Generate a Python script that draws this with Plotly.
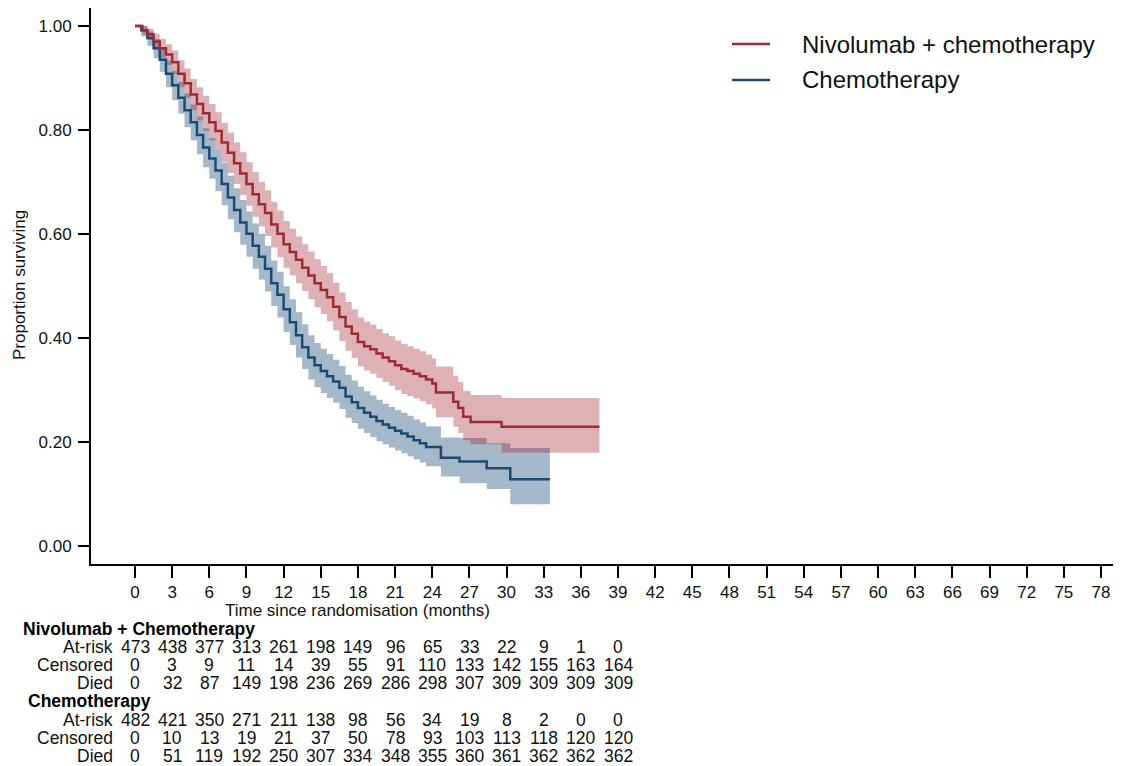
import plotly.graph_objects as go

# ---------------- data ----------------
nivo_time = [0, 0.6, 1.0, 1.5, 2.0, 2.5, 3.0, 3.5, 4.0, 4.5, 5.0, 5.5, 6.0, 6.5, 7.0, 7.5,
             8.0, 8.5, 9.0, 9.5, 10.0, 10.5, 11.0, 11.5, 12.0, 12.5, 13.0, 13.5, 14.0, 14.5,
             15.0, 15.5, 16.0, 16.5, 17.0, 17.5, 18.0, 18.5, 19.0, 19.5, 20.0, 20.5, 21.0,
             21.5, 22.0, 22.5, 23.0, 23.5, 24.0, 24.3, 25.7, 26.1, 26.5, 27.1, 29.6, 37.5]
nivo_surv = [1.000, 0.992, 0.984, 0.970, 0.957, 0.945, 0.930, 0.908, 0.890, 0.868, 0.850,
             0.832, 0.815, 0.798, 0.776, 0.756, 0.736, 0.716, 0.696, 0.676, 0.657, 0.640,
             0.618, 0.600, 0.580, 0.565, 0.550, 0.535, 0.520, 0.505, 0.492, 0.478, 0.460,
             0.440, 0.422, 0.408, 0.392, 0.384, 0.378, 0.370, 0.362, 0.355, 0.347, 0.340,
             0.336, 0.331, 0.326, 0.320, 0.312, 0.295, 0.277, 0.265, 0.248, 0.238, 0.229, 0.229]
nivo_upper = [1.000, 1.000, 0.995, 0.985, 0.975, 0.965, 0.953, 0.934, 0.918, 0.898, 0.882,
              0.866, 0.850, 0.834, 0.814, 0.795, 0.776, 0.757, 0.738, 0.719, 0.700, 0.684,
              0.662, 0.645, 0.625, 0.610, 0.595, 0.580, 0.566, 0.551, 0.538, 0.524, 0.506,
              0.487, 0.469, 0.455, 0.439, 0.431, 0.425, 0.417, 0.409, 0.403, 0.395, 0.388,
              0.384, 0.379, 0.374, 0.368, 0.360, 0.345, 0.327, 0.315, 0.298, 0.290, 0.284, 0.284]
nivo_lower = [1.000, 0.984, 0.973, 0.955, 0.939, 0.925, 0.907, 0.882, 0.862, 0.838, 0.818,
              0.798, 0.780, 0.762, 0.738, 0.717, 0.696, 0.675, 0.654, 0.633, 0.614, 0.596,
              0.574, 0.555, 0.535, 0.520, 0.505, 0.490, 0.474, 0.459, 0.446, 0.432, 0.414,
              0.394, 0.375, 0.361, 0.345, 0.337, 0.331, 0.323, 0.315, 0.308, 0.299, 0.292,
              0.288, 0.283, 0.278, 0.272, 0.264, 0.247, 0.229, 0.217, 0.203, 0.195, 0.179, 0.179]

chemo_time = [0, 0.5, 1.0, 1.5, 2.0, 2.5, 3.0, 3.5, 4.0, 4.5, 5.0, 5.5, 6.0, 6.5, 7.0, 7.5,
              8.0, 8.5, 9.0, 9.5, 10.0, 10.5, 11.0, 11.5, 12.0, 12.5, 13.0, 13.5, 14.0, 14.5,
              15.0, 15.5, 16.0, 16.5, 17.0, 17.5, 18.0, 18.5, 19.0, 19.5, 20.0, 20.5, 21.0,
              21.5, 22.0, 22.5, 23.0, 23.5, 24.7, 26.2, 28.4, 30.3, 33.5]
chemo_surv = [1.000, 0.992, 0.977, 0.957, 0.935, 0.908, 0.886, 0.862, 0.838, 0.815, 0.790,
              0.766, 0.745, 0.722, 0.696, 0.670, 0.646, 0.622, 0.600, 0.577, 0.556, 0.533,
              0.505, 0.483, 0.455, 0.430, 0.405, 0.382, 0.362, 0.347, 0.336, 0.326, 0.316,
              0.304, 0.287, 0.276, 0.265, 0.256, 0.248, 0.240, 0.233, 0.227, 0.221, 0.216,
              0.210, 0.203, 0.197, 0.190, 0.169, 0.162, 0.149, 0.128, 0.128]
chemo_upper = [1.000, 1.000, 0.990, 0.975, 0.957, 0.933, 0.914, 0.892, 0.870, 0.849, 0.826,
               0.803, 0.784, 0.762, 0.737, 0.712, 0.688, 0.665, 0.643, 0.620, 0.600, 0.577,
               0.549, 0.527, 0.499, 0.474, 0.449, 0.426, 0.405, 0.390, 0.379, 0.369, 0.358,
               0.346, 0.329, 0.318, 0.306, 0.297, 0.289, 0.281, 0.273, 0.267, 0.261, 0.256,
               0.250, 0.243, 0.237, 0.230, 0.208, 0.207, 0.197, 0.188, 0.188]
chemo_lower = [1.000, 0.980, 0.962, 0.938, 0.912, 0.882, 0.857, 0.831, 0.805, 0.780, 0.753,
               0.728, 0.706, 0.682, 0.655, 0.628, 0.603, 0.579, 0.556, 0.533, 0.512, 0.489,
               0.461, 0.439, 0.411, 0.386, 0.362, 0.340, 0.320, 0.305, 0.294, 0.284, 0.275,
               0.263, 0.246, 0.236, 0.225, 0.217, 0.209, 0.201, 0.195, 0.189, 0.183, 0.178,
               0.172, 0.166, 0.160, 0.153, 0.133, 0.120, 0.109, 0.080, 0.080]

x_ticks = list(range(0, 79, 3))
y_ticks = [0.0, 0.2, 0.4, 0.6, 0.8, 1.0]
y_ticklabels = ["0.00", "0.20", "0.40", "0.60", "0.80", "1.00"]

table_times = [0, 3, 6, 9, 12, 15, 18, 21, 24, 27, 30, 33, 36, 39]
nivo_atrisk = [473, 438, 377, 313, 261, 198, 149, 96, 65, 33, 22, 9, 1, 0]
nivo_censored = [0, 3, 9, 11, 14, 39, 55, 91, 110, 133, 142, 155, 163, 164]
nivo_died = [0, 32, 87, 149, 198, 236, 269, 286, 298, 307, 309, 309, 309, 309]
chemo_atrisk = [482, 421, 350, 271, 211, 138, 98, 56, 34, 19, 8, 2, 0, 0]
chemo_censored = [0, 10, 13, 19, 21, 37, 50, 78, 93, 103, 113, 118, 120, 120]
chemo_died = [0, 51, 119, 192, 250, 307, 334, 348, 355, 360, 361, 362, 362, 362]

# ---------------- styling ----------------
# the page body has an 8px margin: the figure is drawn from (8, 8);
# the visible page ends at about x = 1113
OFF = 8
RIGHT = 1113
W, H = RIGHT - OFF, 766 - OFF
ML, MR, MT, MB = 91 - OFF, 0, 0, 766 - 564
PW, PH = W - ML - MR, H - MT - MB
FONT = "Arial, Liberation Sans, sans-serif"
RED = "#9E2A32"
BLUE = "#1B4A74"
RED_FILL = "rgba(160,40,50,0.36)"
BLUE_FILL = "rgba(30,77,122,0.40)"
TXT = "#111111"

# x scale: month 0 at screen x=135, month 78 at screen x=1101
PPM = (1101 - 135) / 78.0
X_RANGE = [-(135 - 91) / PPM, 78 + (RIGHT - 1101) / PPM]


def px(xs):
    """screen pixel x -> paper x"""
    return (xs - OFF - ML) / PW


def py(ys):
    """screen pixel y -> paper y"""
    return (MT + PH - (ys - OFF)) / PH


fig = go.Figure()

for t, lo, hi, fill in [(chemo_time, chemo_lower, chemo_upper, BLUE_FILL),
                        (nivo_time, nivo_lower, nivo_upper, RED_FILL)]:
    fig.add_trace(go.Scatter(x=t, y=lo, mode="lines", line=dict(width=0, shape="hv"),
                             showlegend=False, hoverinfo="skip"))
    fig.add_trace(go.Scatter(x=t, y=hi, mode="lines", line=dict(width=0, shape="hv"),
                             fill="tonexty", fillcolor=fill, showlegend=False, hoverinfo="skip"))

fig.add_trace(go.Scatter(x=chemo_time, y=chemo_surv, mode="lines", name="Chemotherapy",
                         line=dict(color=BLUE, width=2.5, shape="hv"), showlegend=False))
fig.add_trace(go.Scatter(x=nivo_time, y=nivo_surv, mode="lines", name="Nivolumab + chemotherapy",
                         line=dict(color=RED, width=2.5, shape="hv"), showlegend=False))

annotations = []
shapes = []

# legend (manual)
for label, col, yp in [("Nivolumab + chemotherapy", RED, 44), ("Chemotherapy", BLUE, 80)]:
    shapes.append(dict(type="line", xref="paper", yref="paper", x0=px(732), x1=px(770),
                       y0=py(yp), y1=py(yp), line=dict(color=col, width=2.5)))
    annotations.append(dict(xref="paper", yref="paper", x=px(800), y=py(yp), text=label,
                            showarrow=False, xanchor="left", yanchor="middle",
                            font=dict(family=FONT, size=24, color=TXT)))

# y-axis title
annotations.append(dict(xref="paper", yref="paper", x=px(19), y=py(285), text="Proportion surviving",
                        textangle=-90, showarrow=False, xanchor="center", yanchor="middle",
                        font=dict(family=FONT, size=17, color=TXT)))
# x-axis title
annotations.append(dict(xref="x", yref="paper", x=18, y=py(610),
                        text="Time since randomisation (months)", showarrow=False,
                        xanchor="center", yanchor="middle",
                        font=dict(family=FONT, size=17, color=TXT)))

# risk table
rows = [
    ("Nivolumab + Chemotherapy", None, 629, 21),
    ("At-risk", nivo_atrisk, 647, None),
    ("Censored", nivo_censored, 665, None),
    ("Died", nivo_died, 683, None),
    ("Chemotherapy", None, 701, 26),
    ("At-risk", chemo_atrisk, 720, None),
    ("Censored", chemo_censored, 738, None),
    ("Died", chemo_died, 756, None),
]
for label, vals, yp, xl in rows:
    if vals is None:
        annotations.append(dict(xref="paper", yref="paper", x=px(xl), y=py(yp),
                                text="<b>" + label + "</b>", showarrow=False,
                                xanchor="left", yanchor="middle",
                                font=dict(family=FONT, size=17.5, color="#000000")))
    else:
        annotations.append(dict(xref="paper", yref="paper", x=px(115), y=py(yp), text=label,
                                showarrow=False, xanchor="right", yanchor="middle",
                                font=dict(family=FONT, size=17.5, color=TXT)))
        for t, v in zip(table_times, vals):
            annotations.append(dict(xref="x", yref="paper", x=t, y=py(yp), text=str(v),
                                    showarrow=False, xanchor="center", yanchor="middle",
                                    font=dict(family=FONT, size=17.5, color=TXT)))

fig.update_layout(
    width=W, height=H,
    margin=dict(l=ML, r=MR, t=MT, b=MB),
    paper_bgcolor="white", plot_bgcolor="white",
    showlegend=False,
    annotations=annotations, shapes=shapes,
    xaxis=dict(range=X_RANGE, tickvals=x_ticks, ticks="outside", ticklen=12,
               tickwidth=1.5, tickcolor="black", showline=True, linewidth=2, linecolor="black",
               showgrid=False, zeroline=False,
               tickfont=dict(family=FONT, size=17, color=TXT)),
    yaxis=dict(range=[-0.0352, 1.0346], tickvals=y_ticks, ticktext=y_ticklabels, ticks="outside",
               ticklen=11, tickwidth=1.5, tickcolor="black", showline=True, linewidth=2,
               linecolor="black", showgrid=False, zeroline=False, ticklabelstandoff=3,
               tickfont=dict(family=FONT, size=17, color=TXT)),
)

fig.write_html("out.html")
